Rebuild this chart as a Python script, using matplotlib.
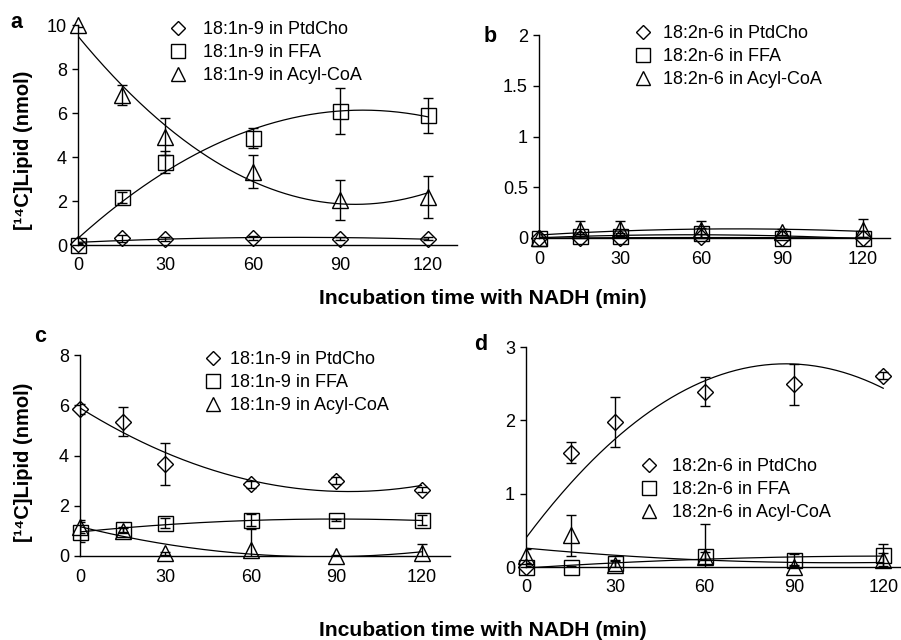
import numpy as np
import matplotlib
matplotlib.use("Agg")
import matplotlib.pyplot as plt
from matplotlib.lines import Line2D

plt.rcParams['font.family'] = ['Liberation Sans', 'DejaVu Sans']

t = [0, 15, 30, 60, 90, 120]
xticks = [0, 30, 60, 90, 120]

# Panel a (18:1n-9)
a_pc = [0.05, 0.30, 0.27, 0.33, 0.29, 0.29]
a_pc_err = [0.05, 0.15, 0.08, 0.08, 0.08, 0.06]
a_ffa = [0.0, 2.17, 3.76, 4.85, 6.09, 5.90]
a_ffa_err = [0.05, 0.25, 0.50, 0.45, 1.05, 0.80]
a_acy = [10.0, 6.82, 4.92, 3.33, 2.05, 2.20]
a_acy_err = [0.10, 0.45, 0.84, 0.75, 0.90, 0.95]

# Panel b (18:2n-6)
b_pc = [0.0, 0.0, 0.0, 0.01, 0.0, 0.0]
b_pc_err = [0.01, 0.02, 0.02, 0.03, 0.01, 0.01]
b_ffa = [0.0, 0.02, 0.02, 0.05, 0.0, 0.0]
b_ffa_err = [0.01, 0.02, 0.03, 0.05, 0.01, 0.01]
b_acy = [0.0, 0.08, 0.09, 0.08, 0.06, 0.08]
b_acy_err = [0.01, 0.09, 0.08, 0.09, 0.03, 0.11]

# Panel c (18:1n-9)
c_pc = [5.84, 5.35, 3.65, 2.85, 3.00, 2.63]
c_pc_err = [0.20, 0.58, 0.83, 0.15, 0.15, 0.10]
c_ffa = [0.97, 1.06, 1.30, 1.43, 1.43, 1.43]
c_ffa_err = [0.40, 0.10, 0.20, 0.25, 0.05, 0.20]
c_acy = [1.17, 1.00, 0.10, 0.24, 0.0, 0.13]
c_acy_err = [0.25, 0.10, 0.05, 0.85, 0.05, 0.33]

# Panel d (18:2n-6)
d_pc = [0.0, 1.56, 1.98, 2.39, 2.49, 2.61]
d_pc_err = [0.02, 0.14, 0.34, 0.20, 0.28, 0.05]
d_ffa = [0.0, 0.0, 0.05, 0.15, 0.10, 0.16]
d_ffa_err = [0.01, 0.01, 0.05, 0.05, 0.08, 0.15]
d_acy = [0.15, 0.43, 0.03, 0.14, 0.0, 0.09]
d_acy_err = [0.10, 0.28, 0.05, 0.45, 0.03, 0.10]

labels_1 = ['18:1n-9 in PtdCho', '18:1n-9 in FFA', '18:1n-9 in Acyl-CoA']
labels_2 = ['18:2n-6 in PtdCho', '18:2n-6 in FFA', '18:2n-6 in Acyl-CoA']

W, H = 901, 640
fig = plt.figure(figsize=(W / 100, H / 100), dpi=100)

markers = [('D', 8.4), ('s', 10.8), ('^', 11.2)]
leg_markers = [('D', 7.2), ('s', 9.5), ('^', 9.5)]


def px_axes(x0, x1, y0, y1):
    # x0,x1: pixel columns of xlim; y0 = pixel row of ymin, y1 = pixel row of ymax
    return fig.add_axes([x0 / W, (H - y0) / H, (x1 - x0) / W, (y0 - y1) / H])


def draw(ax, series, ymax, yticks, yticklabels, letter, letter_xy, leg_labels,
         leg_xy, textpad):
    tt = np.array(t, dtype=float)
    xs = np.linspace(0, 120, 200)
    for (vals, errs), (m, ms) in zip(series, markers):
        v = np.array(vals)
        ax.errorbar(tt, v, yerr=errs, fmt='none', ecolor='black', elinewidth=1.0,
                    capsize=3.6, capthick=1.0, zorder=3)
        ax.plot(tt, v, ls='none', marker=m, ms=ms, mfc='none', mec='black',
                mew=1.0, clip_on=False, zorder=4)
        coef = np.polyfit(tt, v, 2)
        ax.plot(xs, np.polyval(coef, xs), color='black', lw=0.9, zorder=2)
    ax.set_xlim(0, 130)
    ax.set_ylim(0, ymax)
    for s in ['top', 'right']:
        ax.spines[s].set_visible(False)
    ax.spines['left'].set_linewidth(1.0)
    ax.spines['bottom'].set_linewidth(1.0)
    ax.set_xticks(xticks)
    ax.set_xticklabels([str(x) for x in xticks])
    ax.set_yticks(yticks)
    ax.set_yticklabels(yticklabels)
    ax.tick_params(axis='x', length=0, pad=9, labelsize=13)
    ax.tick_params(axis='y', length=4, width=1.0, direction='out', pad=4, labelsize=13)
    ax.patch.set_alpha(0)
    fig.text(letter_xy[0] / W, 1 - letter_xy[1] / H, letter, fontsize=15.5,
             fontweight='bold', ha='center', va='center')
    handles = [Line2D([], [], ls='none', marker=m, ms=ms, mfc='none',
                      mec='black', mew=1.0) for m, ms in leg_markers]
    ax.legend(handles, leg_labels, loc='upper left',
              bbox_to_anchor=(leg_xy[0] / W, 1 - leg_xy[1] / H),
              bbox_transform=fig.transFigure, frameon=False, fontsize=13,
              handlelength=1.0, handletextpad=textpad, labelspacing=0.33,
              borderpad=0, borderaxespad=0)


ax_a = px_axes(78, 457, 245, 25)
draw(ax_a, [(a_pc, a_pc_err), (a_ffa, a_ffa_err), (a_acy, a_acy_err)], 10,
     [0, 2, 4, 6, 8, 10], ['0', '2', '4', '6', '8', '10'],
     'a', (16, 22), labels_1, (169, 21), 0.9)

ax_b = px_axes(539, 890, 238, 35)
draw(ax_b, [(b_pc, b_pc_err), (b_ffa, b_ffa_err), (b_acy, b_acy_err)], 2,
     [0, 0.5, 1, 1.5, 2], ['0', '0.5', '1', '1.5', '2'],
     'b', (490, 36), labels_2, (634, 25), 0.6)

ax_c = px_axes(80, 450, 556, 355)
draw(ax_c, [(c_pc, c_pc_err), (c_ffa, c_ffa_err), (c_acy, c_acy_err)], 8,
     [0, 2, 4, 6, 8], ['0', '2', '4', '6', '8'],
     'c', (40, 337), labels_1, (204, 351), 0.45)

ax_d = px_axes(526, 913, 567, 347)
draw(ax_d, [(d_pc, d_pc_err), (d_ffa, d_ffa_err), (d_acy, d_acy_err)], 3,
     [0, 1, 2, 3], ['0', '1', '2', '3'],
     'd', (481, 345), labels_2, (640, 458), 0.78)

ylab = '[\u00b9\u2074C]Lipid (nmol)'
fig.text(24 / W, 1 - 150 / H, ylab, rotation=90, fontsize=14.5, fontweight='bold',
         ha='center', va='center')
fig.text(24 / W, 1 - 462 / H, ylab, rotation=90, fontsize=14.5, fontweight='bold',
         ha='center', va='center')

xlab = 'Incubation time with NADH (min)'
fig.text(483 / W, 1 - 299 / H, xlab, fontsize=15.2, fontweight='bold',
         ha='center', va='center')
fig.text(483 / W, 1 - 630 / H, xlab, fontsize=15.2, fontweight='bold',
         ha='center', va='center')

fig.savefig('out.png', dpi=100)
